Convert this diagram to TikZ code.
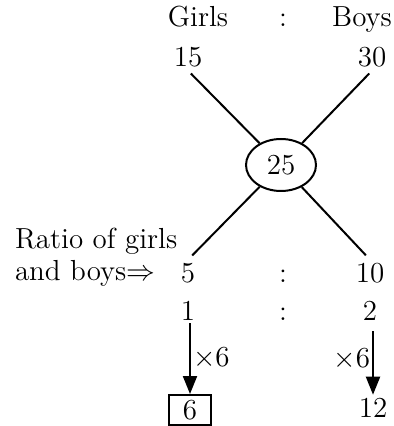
\documentclass[tikz,border=0pt]{standalone}
\usetikzlibrary{arrows.meta, shapes.geometric, positioning}

\begin{document}
\begin{tikzpicture}[x=0.5pt, y=-0.5pt, line width=1pt,
    txt/.style={inner sep=1pt, font=\fontsize{14.5}{16}\selectfont},
    arr/.style={-{Triangle[length=9pt, width=7pt]}}]
  \useasboundingbox (0,0) rectangle (394,426);
  % Header
  \node[txt, anchor=base] (girls) at (198,27) {Girls};
  \node[txt, anchor=base] (colA) at (283,27) {:};
  \node[txt, anchor=base] (boys) at (362,27) {Boys};
  \node[txt, anchor=base] (n15) at (188,67) {15};
  \node[txt, anchor=base] (n30) at (372,67) {30};
  % Centre
  \node[txt, draw, ellipse, minimum width=35pt, minimum height=26pt] (mid) at (281,165) {25};
  % Ratio
  \node[txt, anchor=west, align=left] (ratio) at (12,257) {Ratio of girls\\and boys$\Rightarrow$};
  \node[txt, anchor=base] (n5) at (188,282) {5};
  \node[txt, anchor=base] (colB) at (283,282) {:};
  \node[txt, anchor=base] (n10) at (370,282) {10};
  \node[txt, anchor=base] (n1) at (188,320) {1};
  \node[txt, anchor=base] (colC) at (283,320) {:};
  \node[txt, anchor=base] (n2) at (370,320) {2};
  % Results
  \node[txt, draw, minimum width=21pt, minimum height=15pt] (box6) at (190,410) {6};
  \node[txt, anchor=base] (n12) at (373,417) {12};
  % Cross lines
  \draw[shorten <=2pt] (n15.south) -- (mid);
  \draw[shorten <=2pt] (n30.south) -- (mid);
  \draw[shorten >=3pt] (mid) -- (n5.north);
  \draw[shorten >=3pt] (mid) -- (n10.north);
  % Arrows
  \draw[arr] (box6.north |- n1.south) -- (box6.north) node[txt, midway, right] {$\times$6};
  \draw[arr, shorten <=4pt] (n12.north |- n2.south) -- (n12.north) node[txt, midway, left] {$\times$6};
\end{tikzpicture}
\end{document}
